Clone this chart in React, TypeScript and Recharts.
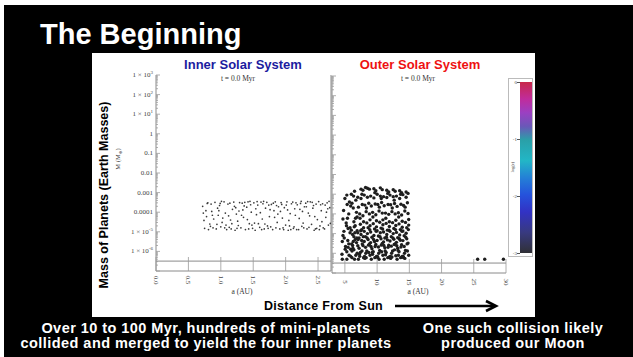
import React from "react";
import { ScatterChart, Scatter, XAxis, YAxis, ReferenceLine } from "recharts";

// ---- data ----
// inner solar system: [a (AU), mass (earth masses)]
const INNER: [number, number][] = [
  [0.72, 2e-4], [0.75, 1.5e-5], [0.78, 6e-5], [0.8, 3e-4], [0.83, 2.5e-5], [0.86, 1.1e-4], [0.88, 1.6e-5],
  [0.74, 3.8e-5], [0.81, 1.3e-5], [0.85, 2.6e-4], [0.89, 4.5e-5], [0.77, 1.2e-4],
  [0.91, 3.2e-4], [0.93, 1.4e-5], [0.96, 7e-5], [0.98, 2.2e-4], [1.0, 1.8e-5], [1.02, 3e-5], [1.05, 3.4e-4],
  [1.07, 9e-5], [1.09, 1.3e-5], [0.95, 1.6e-4], [1.03, 5e-5], [0.99, 2.8e-4], [1.08, 2.2e-5],
  [1.11, 2.6e-4], [1.13, 1.7e-5], [1.15, 4e-5], [1.18, 1.4e-4], [1.2, 3.3e-4], [1.22, 1.2e-5], [1.24, 8e-5],
  [1.27, 2.1e-5], [1.29, 3.1e-4], [1.12, 6.5e-5], [1.16, 1.4e-5], [1.21, 2e-4], [1.26, 3.5e-5], [1.28, 1.15e-4],
  [1.31, 1.6e-5], [1.33, 2.9e-4], [1.35, 5.5e-5], [1.38, 1.3e-5], [1.4, 1.8e-4], [1.42, 3.4e-4], [1.44, 2.6e-5],
  [1.47, 1e-4], [1.49, 1.5e-5], [1.34, 1.3e-4], [1.37, 3.2e-4], [1.41, 4.2e-5], [1.46, 2.4e-4], [1.48, 2.2e-5],
  [1.51, 3e-4], [1.53, 1.2e-5], [1.55, 7.5e-5], [1.57, 2.3e-4], [1.6, 1.7e-5], [1.62, 3.3e-4], [1.64, 4.5e-5],
  [1.67, 1.4e-5], [1.69, 1.6e-4], [1.52, 2.8e-5], [1.56, 3.5e-4], [1.61, 9.5e-5], [1.65, 2.7e-4], [1.68, 2.5e-5],
  [1.71, 3.2e-4], [1.73, 1.5e-5], [1.75, 6e-5], [1.78, 2.5e-4], [1.8, 1.3e-5], [1.82, 1.2e-4], [1.84, 3.4e-4],
  [1.87, 3e-5], [1.89, 1.9e-4], [1.72, 2e-5], [1.76, 1.35e-4], [1.81, 2.9e-4], [1.85, 1.6e-5], [1.88, 8e-5],
  [1.91, 1.4e-5], [1.93, 3.1e-4], [1.95, 5e-5], [1.98, 1.7e-4], [2.0, 2.2e-5], [2.02, 3.4e-4], [2.04, 1.2e-5],
  [2.07, 8.5e-5], [2.09, 2.7e-4], [1.92, 1.1e-4], [1.96, 1.6e-5], [2.01, 2.3e-4], [2.05, 3.8e-5], [2.08, 1.3e-5],
  [2.11, 3.3e-4], [2.13, 1.8e-5], [2.15, 7e-5], [2.18, 2.4e-4], [2.2, 1.3e-5], [2.22, 1.4e-4], [2.24, 3.6e-4],
  [2.27, 2.8e-5], [2.29, 1.9e-4], [2.12, 1.5e-5], [2.16, 3e-4], [2.21, 4.8e-5], [2.26, 1.1e-4], [2.28, 1.6e-5],
  [2.31, 2.9e-4], [2.33, 1.4e-5], [2.35, 9e-5], [2.38, 3.4e-4], [2.4, 2.4e-5], [2.42, 1.6e-4], [2.44, 1.2e-5],
  [2.47, 2.6e-4], [2.49, 4.2e-5], [2.32, 1.9e-4], [2.36, 1.7e-5], [2.41, 3.2e-4], [2.45, 6e-5], [2.48, 1.5e-5],
  [2.51, 3.5e-4], [2.53, 2e-5], [2.55, 1.2e-4], [2.57, 2.7e-4], [2.6, 1.4e-5], [2.62, 5.5e-5], [2.64, 3e-4],
  [2.66, 2.2e-5], [2.68, 1.7e-4], [2.52, 1.3e-5], [2.56, 3.3e-5], [2.61, 2.3e-4], [2.65, 1.5e-4], [2.67, 3.6e-4],
  [0.73, 9e-5], [0.79, 2.8e-4], [0.84, 1.9e-5], [0.87, 7e-5], [0.94, 2.4e-5], [0.97, 1.2e-4], [1.01, 3.6e-4],
  [1.06, 1.6e-5], [1.14, 2.9e-4], [1.17, 2.6e-5], [1.23, 1.7e-4], [1.25, 1.5e-5], [1.32, 7e-5], [1.36, 2.1e-4],
  [1.43, 1.4e-5], [1.45, 3.6e-4], [1.54, 1.5e-4], [1.58, 2.6e-5], [1.63, 1.3e-5], [1.66, 3.6e-4], [1.74, 2.3e-4],
  [1.77, 1.8e-5], [1.83, 5.5e-5], [1.86, 2.2e-4], [1.94, 2.5e-4], [1.97, 1.3e-5], [2.03, 1.3e-4], [2.06, 2e-5],
  [2.14, 1.5e-4], [2.17, 1.3e-5], [2.23, 2.8e-4], [2.25, 1.9e-5], [2.34, 3.5e-4], [2.37, 6.5e-5], [2.43, 2.2e-4],
  [2.46, 1.4e-5], [2.54, 2.4e-4], [2.58, 1.6e-5], [2.63, 1e-4], [2.69, 2.7e-5],
];

// outer solar system: [a (AU), mass (earth masses)]
const OUTER: [number, number][] = [
  [4.6, 5e-7], [5.3, 1.2e-6], [5.6, 3e-6], [4.7, 8e-6], [5.8, 2e-5], [5.4, 6e-5], [4.8, 1.5e-4], [5.7, 4e-4],
  [5.3, 9e-4], [5.9, 7e-7], [5.5, 2e-6], [4.6, 4e-6], [5.8, 1.1e-5], [5.2, 3.5e-5], [5.6, 1e-4], [5.9, 2.5e-4],
  [5.0, 6e-4], [5.1, 2.2e-6], [4.9, 6e-6], [5.3, 5e-7], [5.9, 1.6e-6], [5.5, 1.8e-5], [4.7, 5.5e-5],
  [6.1, 6e-7], [6.4, 1.5e-6], [6.8, 3.5e-6], [6.2, 9e-6], [6.6, 2.5e-5], [6.9, 7e-5], [6.3, 2e-4], [6.7, 5e-4],
  [6.0, 1e-3], [6.5, 5e-7], [6.9, 1e-6], [6.2, 2.5e-6], [6.6, 5e-6], [6.0, 1.5e-5], [6.4, 4e-5], [6.8, 1.2e-4],
  [6.1, 3.5e-4], [6.5, 1.4e-3], [6.7, 8e-7], [6.3, 4e-6], [6.9, 1.4e-5], [6.4, 7e-6], [6.1, 1.3e-6],
  [7.1, 5e-7], [7.4, 1.1e-6], [7.8, 2.5e-6], [7.2, 6e-6], [7.6, 1.6e-5], [7.9, 4e-5], [7.3, 1e-4], [7.7, 3e-4],
  [7.0, 7e-4], [7.5, 1.8e-3], [7.9, 6e-7], [7.2, 1.8e-6], [7.6, 4.5e-6], [7.0, 1.1e-5], [7.4, 3e-5], [7.8, 8e-5],
  [7.1, 2.2e-4], [7.5, 6e-4], [7.8, 1.6e-3], [7.3, 7e-7], [7.7, 3e-6], [7.0, 2.4e-6], [7.5, 9e-6], [7.9, 2e-5],
  [8.1, 5.5e-7], [8.4, 1.3e-6], [8.8, 3e-6], [8.2, 7e-6], [8.6, 2e-5], [8.9, 5e-5], [8.3, 1.3e-4], [8.7, 3.5e-4],
  [8.0, 9e-4], [8.5, 2e-3], [8.9, 8e-7], [8.2, 2e-6], [8.6, 5e-6], [8.0, 1.3e-5], [8.4, 3.5e-5], [8.8, 1e-4],
  [8.1, 2.8e-4], [8.5, 7e-4], [8.8, 1.8e-3], [8.3, 6e-7], [8.7, 1.1e-6], [8.0, 4e-6], [8.5, 1e-5], [8.9, 2.5e-5],
  [8.2, 2.2e-3],
  [9.1, 5e-7], [9.4, 1.2e-6], [9.8, 2.8e-6], [9.2, 6.5e-6], [9.6, 1.7e-5], [9.9, 4.5e-5], [9.3, 1.2e-4], [9.7, 3.2e-4],
  [9.0, 8e-4], [9.5, 1.9e-3], [9.9, 7e-7], [9.2, 1.7e-6], [9.6, 4e-6], [9.0, 1.2e-5], [9.4, 3.2e-5], [9.8, 9e-5],
  [9.1, 2.5e-4], [9.5, 6.5e-4], [9.8, 1.5e-3], [9.3, 9e-7], [9.7, 2.2e-6], [9.0, 3.5e-6], [9.5, 8e-6], [9.9, 2.2e-5],
  [10.1, 6e-7], [10.4, 1.4e-6], [10.8, 3.2e-6], [10.2, 7.5e-6], [10.6, 1.9e-5], [10.9, 5e-5], [10.3, 1.4e-4],
  [10.7, 3.8e-4], [10.0, 1e-3], [10.5, 2.1e-3], [10.9, 8e-7], [10.2, 2.1e-6], [10.6, 5.5e-6], [10.0, 1.4e-5],
  [10.4, 3.8e-5], [10.8, 1.1e-4], [10.1, 3e-4], [10.5, 8e-4], [10.8, 1.7e-3], [10.3, 5e-7], [10.7, 1.2e-6],
  [10.0, 4.5e-6], [10.5, 1.1e-5], [10.9, 2.8e-5],
  [11.1, 5e-7], [11.4, 1.1e-6], [11.8, 2.6e-6], [11.2, 6e-6], [11.6, 1.5e-5], [11.9, 4e-5], [11.3, 1.1e-4],
  [11.7, 3e-4], [11.0, 7.5e-4], [11.5, 1.6e-3], [11.9, 6.5e-7], [11.2, 1.9e-6], [11.6, 4.8e-6], [11.0, 1.2e-5],
  [11.4, 3.3e-5], [11.8, 9.5e-5], [11.1, 2.6e-4], [11.5, 6.8e-4], [11.8, 1.3e-3], [11.3, 8.5e-7], [11.7, 2e-6],
  [11.0, 3.8e-6], [11.5, 9e-6], [11.9, 2.3e-5],
  [12.1, 5.5e-7], [12.4, 1.3e-6], [12.8, 3e-6], [12.2, 7e-6], [12.6, 1.8e-5], [12.9, 4.8e-5], [12.3, 1.3e-4],
  [12.7, 3.4e-4], [12.0, 9e-4], [12.5, 1.7e-3], [12.9, 7.5e-7], [12.2, 2.3e-6], [12.6, 5.2e-6], [12.0, 1.3e-5],
  [12.4, 3.6e-5], [12.8, 1e-4], [12.1, 2.9e-4], [12.5, 7.5e-4], [12.8, 1.4e-3], [12.3, 6.5e-7], [12.7, 1.5e-6],
  [12.0, 4.2e-6], [12.5, 1e-5], [12.9, 2.6e-5],
  [13.1, 5e-7], [13.4, 1.2e-6], [13.8, 2.7e-6], [13.2, 6.2e-6], [13.6, 1.6e-5], [13.9, 4.2e-5], [13.3, 1.15e-4],
  [13.7, 3.1e-4], [13.0, 8e-4], [13.5, 1.5e-3], [13.9, 7e-7], [13.2, 1.8e-6], [13.6, 4.6e-6], [13.0, 1.15e-5],
  [13.4, 3.1e-5], [13.8, 8.8e-5], [13.1, 2.4e-4], [13.5, 6e-4], [13.8, 1.2e-3], [13.3, 8e-7], [13.7, 2.1e-6],
  [13.0, 3.6e-6], [13.5, 8.5e-6], [13.9, 2.1e-5],
  [14.1, 6e-7], [14.4, 1.4e-6], [14.8, 3.3e-6], [14.2, 7.8e-6], [14.6, 2e-5], [14.9, 5.2e-5], [14.3, 1.4e-4],
  [14.7, 3.7e-4], [14.0, 9.5e-4], [14.5, 1.3e-3], [14.9, 8e-7], [14.2, 2.2e-6], [14.6, 5.4e-6], [14.0, 1.35e-5],
  [14.4, 3.7e-5], [14.8, 1.05e-4], [14.1, 2.7e-4], [14.5, 7e-4], [14.8, 1.1e-3], [14.3, 5.5e-7], [14.7, 1.3e-6],
  [14.0, 4.4e-6], [14.5, 1.05e-5], [14.9, 2.7e-5],
  [4.55, 9e-7], [5.05, 1.6e-6], [5.45, 4.5e-6], [4.85, 1.3e-5], [5.25, 2.5e-5], [5.65, 8e-7], [6.25, 1.8e-6],
  [6.55, 1.1e-5], [6.85, 6e-6], [6.05, 3e-6], [6.45, 2.2e-5], [7.25, 9e-7], [7.65, 1.3e-6], [7.05, 5e-6],
  [7.45, 1.4e-5], [7.85, 7e-6], [8.25, 1e-6], [8.65, 2.6e-6], [8.05, 7e-7], [8.45, 6e-6], [8.85, 1.6e-5],
  [9.25, 1.1e-6], [9.65, 6e-7], [9.05, 2.2e-6], [9.45, 5e-6], [9.85, 1.3e-5], [10.25, 1e-6], [10.65, 2.6e-6],
  [10.05, 7e-7], [10.45, 7e-6], [10.85, 1.7e-5], [11.25, 1.3e-6], [11.65, 6e-7], [11.05, 2.5e-6], [11.45, 6.5e-6],
  [11.85, 1.5e-5], [12.25, 1e-6], [12.65, 2.8e-6], [12.05, 7e-7], [12.45, 6e-6], [12.85, 1.6e-5], [13.25, 1.4e-6],
  [13.65, 6e-7], [13.05, 2.4e-6], [13.45, 5.5e-6], [13.85, 1.3e-5], [14.25, 1e-6], [14.65, 3e-6], [14.05, 7e-7],
  [14.45, 6.5e-6], [14.85, 1.6e-5],
  [6.65, 6e-5], [7.35, 6e-5], [8.35, 2e-4], [9.35, 7e-5], [10.35, 2.2e-4], [11.35, 6e-5], [12.35, 2e-4],
  [13.35, 7e-5], [14.35, 2.2e-4], [5.35, 3e-4], [6.35, 8e-4], [9.65, 1.2e-3], [11.65, 1.1e-3], [13.65, 1e-3],
  [7.65, 1e-3], [10.65, 6e-4], [12.65, 5e-4],
  [25.6, 5e-7], [26.7, 5e-7], [29.6, 5e-7],
];

const MASS_TICKS = [1e-6, 1e-5, 1e-4, 1e-3, 0.01, 0.1, 1, 10, 100, 1000];
const MASS_LABELS = ["1 × 10|-6", "1 × 10|-5", "0.0001", "0.001", "0.01", "0.1", "1", "1 × 10|1", "1 × 10|2", "1 × 10|3"];
const INNER_TICKS = [0, 0.5, 1, 1.5, 2, 2.5];
const INNER_LABELS = ["0.0", "0.5", "1.0", "1.5", "2.0", "2.5"];
const OUTER_TICKS = [5, 10, 15, 20, 25, 30];
const OUTER_LABELS = ["5", "10", "15", "20", "25", "30"];
const CBAR_LABELS = ["0", "-1", "-2", "-3"];

const FLOOR = 3.2e-7;

// major + minor log ticks
const allMassTicks: number[] = [];
[1e-7, ...MASS_TICKS].forEach((m) => {
  if (m >= 1000) { allMassTicks.push(m); return; }
  for (let k = 1; k <= 9; k++) allMassTicks.push(+(m * k).toPrecision(3));
});

const innerData = INNER.map(([a, m]) => ({ a, m }));
const outerData = OUTER.map(([a, m]) => ({ a, m }));

const SERIF = "'Liberation Serif', 'DejaVu Serif', serif";
const SANS = "'Liberation Sans', Arial, sans-serif";

function majorIndex(v: number) {
  return MASS_TICKS.findIndex((t) => Math.abs(Math.log10(t) - Math.log10(v)) < 1e-6);
}

function MassTick(props: any) {
  const { x, y, payload, showLabel } = props;
  const ax = x + 3;
  const idx = majorIndex(payload.value);
  const major = idx >= 0 || payload.value === 1e-7;
  const raw = idx >= 0 ? MASS_LABELS[idx] : "";
  const [base, sup] = raw.split("|");
  return (
    <g>
      <line x1={ax} x2={ax + (major ? 4 : 2)} y1={y} y2={y} stroke="#9a9a9a" strokeWidth={0.8} />
      {showLabel && idx >= 0 && (
        <text x={x} y={y} textAnchor="end" dominantBaseline="central" fontFamily={SERIF} fontSize={7} fill="#444">
          {base}
          {sup && <tspan fontSize={5} dy={-3}>{sup}</tspan>}
        </text>
      )}
    </g>
  );
}

function DistTick(props: any) {
  const { x, y, payload, labels, ticks } = props;
  const i = ticks.indexOf(payload.value);
  const ty = y + 9;
  return (
    <g>
      <line x1={x} x2={x} y1={y} y2={y - 14} stroke="#9a9a9a" strokeWidth={0.8} />
      <text x={x} y={ty} transform={`rotate(90 ${x} ${ty})`} textAnchor="middle" dominantBaseline="central"
        fontFamily={SERIF} fontSize={7} fill="#444">
        {labels[i]}
      </text>
    </g>
  );
}

const abs = (left: number, top: number, extra: React.CSSProperties = {}): React.CSSProperties => ({
  position: "absolute", left, top, ...extra,
});

export default function App() {
  return (
    <div style={{ position: "fixed", left: 0, top: 0, width: 633, height: 357, background: "#fff", overflow: "hidden" }}>
      <div style={abs(4, 5, { width: 629, height: 352, background: "#000" })} />
      <div style={abs(40, 19.5, { color: "#fff", fontFamily: SANS, fontWeight: 700, fontSize: 29, lineHeight: 1, whiteSpace: "nowrap" })}>
        The Beginning
      </div>

      {/* white panel */}
      <div style={abs(92, 53, { width: 443, height: 264, background: "#fff" })} />

      <div style={abs(173, 58, { width: 140, textAlign: "center", color: "#1c1ca0", fontFamily: SANS, fontWeight: 700, fontSize: 13, lineHeight: 1, whiteSpace: "nowrap" })}>
        Inner Solar System
      </div>
      <div style={abs(350, 58, { width: 140, textAlign: "center", color: "#ee1111", fontFamily: SANS, fontWeight: 700, fontSize: 13, lineHeight: 1, whiteSpace: "nowrap" })}>
        Outer Solar System
      </div>

      <div style={abs(104, 195, { transform: "translate(-50%, -50%) rotate(-90deg)", fontFamily: SANS, fontWeight: 700, fontSize: 12.5, lineHeight: 1, whiteSpace: "nowrap", color: "#000" })}>
        Mass of Planets (Earth Masses)
      </div>
      <div style={abs(119, 159, { transform: "translate(-50%, -50%) rotate(-90deg)", fontFamily: SERIF, fontSize: 6.5, lineHeight: 1, whiteSpace: "nowrap", color: "#444" })}>
        M (M<sub style={{ fontSize: 4.5 }}>⊕</sub>)
      </div>

      <div style={abs(100, 70)}>
        <ScatterChart width={240} height={230} margin={{ top: 5, right: 9, bottom: 0, left: 0 }}>
          <XAxis dataKey="a" type="number" domain={[0, 2.7]} ticks={INNER_TICKS} interval={0} allowDataOverflow
            height={29} tickSize={0} tickMargin={0} stroke="#8a8a8a"
            tick={<DistTick labels={INNER_LABELS} ticks={INNER_TICKS} />} />
          <YAxis dataKey="m" type="number" scale="log" domain={[1e-7, 1000]} allowDataOverflow ticks={allMassTicks}
            interval={0} width={56} tickSize={0} tickMargin={3} stroke="#8a8a8a" tick={<MassTick showLabel />} />
          <ReferenceLine y={FLOOR} stroke="#8a8a8a" />
          <ReferenceLine x={2.7} stroke="#8a8a8a" />
          <Scatter data={innerData} isAnimationActive={false}
            shape={(p: any) => <circle cx={p.cx} cy={p.cy} r={0.85} fill="#3a3a3a" />} />
        </ScatterChart>
      </div>

      <div style={abs(331, 70)}>
        <ScatterChart width={181} height={230} margin={{ top: 6, right: 6, bottom: 0, left: 0 }}>
          <XAxis dataKey="a" type="number" domain={[3, 30]} ticks={OUTER_TICKS} interval={0} allowDataOverflow
            height={27} tickSize={0} tickMargin={0} stroke="#8a8a8a"
            tick={<DistTick labels={OUTER_LABELS} ticks={OUTER_TICKS} />} />
          <YAxis dataKey="m" type="number" scale="log" domain={[1e-7, 1000]} allowDataOverflow ticks={allMassTicks}
            interval={0} width={1} tickSize={0} tickMargin={3} stroke="#8a8a8a" tick={<MassTick showLabel={false} />} />
          <ReferenceLine y={FLOOR} stroke="#8a8a8a" />
          <Scatter data={outerData} isAnimationActive={false}
            shape={(p: any) => <circle cx={p.cx} cy={p.cy} r={1.7} fill="#1e1e1e" />} />
        </ScatterChart>
      </div>

      <div style={abs(238, 79, { transform: "translate(-50%, -50%)", fontFamily: SERIF, fontSize: 7.5, lineHeight: 1, whiteSpace: "nowrap", color: "#333" })}>
        t = 0.0 Myr
      </div>
      <div style={abs(418, 79, { transform: "translate(-50%, -50%)", fontFamily: SERIF, fontSize: 7.5, lineHeight: 1, whiteSpace: "nowrap", color: "#333" })}>
        t = 0.0 Myr
      </div>
      <div style={abs(242, 292, { transform: "translate(-50%, -50%)", fontFamily: SERIF, fontSize: 7.5, lineHeight: 1, whiteSpace: "nowrap", color: "#333" })}>
        a (AU)
      </div>
      <div style={abs(418, 292, { transform: "translate(-50%, -50%)", fontFamily: SERIF, fontSize: 7.5, lineHeight: 1, whiteSpace: "nowrap", color: "#333" })}>
        a (AU)
      </div>

      {/* colour bar */}
      <div style={abs(508, 78, { width: 23, height: 177, border: "1px solid #bbb", background: "#fff" })} />
      <div style={abs(520, 82, {
        width: 12, height: 171,
        background: "linear-gradient(to bottom, #c8284a 0%, #c02c9c 10%, #9b40c2 18%, #6a58b8 26%, #2aa0a8 34%, #22b6c6 46%, #2480d6 56%, #2552dc 66%, #3232c4 76%, #383a80 88%, #303036 100%)",
      })} />
      {CBAR_LABELS.map((t, i) => (
        <div key={t} style={abs(510, 82 + i * 57, { width: 12, height: 1 })}>
          <div style={abs(7, 0, { width: 3, height: 1, background: "#555" })} />
          <div style={abs(0, -2.5, { fontFamily: SERIF, fontSize: 5, lineHeight: 1, color: "#444", width: 7, textAlign: "right" })}>{t}</div>
        </div>
      ))}
      <div style={abs(513, 167, { transform: "translate(-50%, -50%) rotate(-90deg)", fontFamily: SERIF, fontSize: 4.5, lineHeight: 1, whiteSpace: "nowrap", color: "#333" })}>
        log(e)
      </div>

      <div style={abs(264, 300, { fontFamily: SANS, fontWeight: 700, fontSize: 12.5, letterSpacing: 0.3, lineHeight: 1, whiteSpace: "nowrap", color: "#000" })}>
        Distance From Sun
      </div>
      <svg style={abs(390, 298)} width={112} height={16}>
        <line x1={5} x2={105} y1={8} y2={8} stroke="#000" strokeWidth={2.6} />
        <polyline points="96,3 106,8 96,13" fill="none" stroke="#000" strokeWidth={2.6} />
      </svg>

      <div style={abs(-4, 320.5, { width: 420, textAlign: "center", color: "#fff", fontFamily: SANS, fontWeight: 700, fontSize: 14.5, letterSpacing: 0.45, lineHeight: "15px", whiteSpace: "nowrap" })}>
        Over 10 to 100 Myr, hundreds of mini-planets<br />collided and merged to yield the four inner planets
      </div>
      <div style={abs(403, 320.5, { width: 220, textAlign: "center", color: "#fff", fontFamily: SANS, fontWeight: 700, fontSize: 14.5, letterSpacing: 0.45, lineHeight: "15px", whiteSpace: "nowrap" })}>
        One such collision likely<br />produced our Moon
      </div>
    </div>
  );
}
